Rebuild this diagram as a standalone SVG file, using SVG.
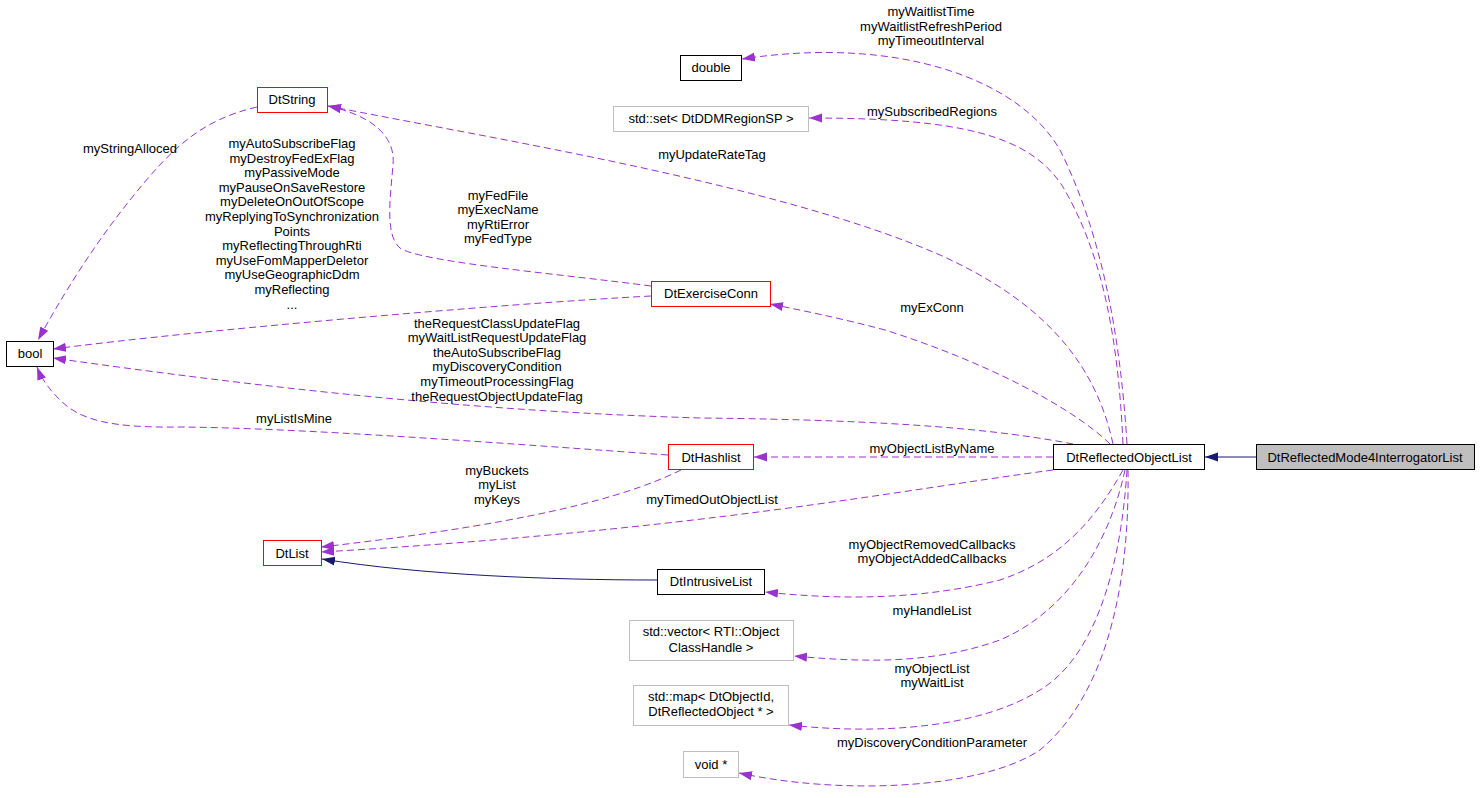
<svg xmlns="http://www.w3.org/2000/svg" width="1480" height="798" viewBox="0 0 1480 798">
<style>
text{font-family:"Liberation Sans",Arial,sans-serif;font-size:13px;fill:#000;text-anchor:middle}
.n{fill:#fff;stroke:#000;stroke-width:1}
.r{fill:#fff;stroke:#ff0000;stroke-width:1}
.g{fill:#fff;stroke:#bfbfbf;stroke-width:1}
.c{fill:#bfbfbf;stroke:#000;stroke-width:1}
.e{fill:none;stroke:#9a32cd;stroke-width:1;stroke-dasharray:7,4;marker-end:url(#pa)}
.i{fill:none;stroke:#191970;stroke-width:1;marker-end:url(#ba)}
</style>
<defs>
<marker id="pa" markerUnits="userSpaceOnUse" markerWidth="14" markerHeight="10" refX="13" refY="5" orient="auto"><path d="M0,0.5 L13,5 L0,9.5 z" fill="#9a32cd"/></marker>
<marker id="ba" markerUnits="userSpaceOnUse" markerWidth="14" markerHeight="10" refX="13" refY="5" orient="auto"><path d="M0,0.5 L13,5 L0,9.5 z" fill="#191970"/></marker>
</defs>
<rect width="1480" height="798" fill="#fff"/>
<g id="connectors">
<path class="i" d="M1256,457 L1205,457"/>
<path class="e" d="M1127,444 C1120,330 1100,230 1060,150 C1020,80 900,35 742,59"/>
<path class="e" d="M1123,444 C1118,330 1100,250 1063,187 C1030,135 960,118 809,118"/>
<path class="e" d="M1113,444 C1095,360 1040,300 940,255 C780,185 500,140 328,106"/>
<path class="e" d="M651,286 C560,274 420,262 400,248 C385,235 390,200 393,165 C396,135 370,115 328,106"/>
<path class="e" d="M257,107 C200,120 170,150 130,200 C90,250 60,300 38,340"/>
<path class="e" d="M651,296 C500,304 200,330 53,349"/>
<path class="e" d="M1073,444 C1000,430 900,420 700,418 C500,412 300,393 53,358"/>
<path class="e" d="M668,455 C500,443 300,428 180,427 C110,428 80,420 60,400 C50,390 42,380 37,367"/>
<path class="e" d="M1110,444 C1070,405 980,360 885,330 C840,318 800,310 770,304"/>
<path class="e" d="M1053,457 L754,457"/>
<path class="e" d="M1053,470 C900,490 700,530 321,552"/>
<path class="e" d="M681,470 C640,490 560,520 321,547"/>
<path class="i" d="M657,580 C550,580 420,575 322,559"/>
<path class="e" d="M1123,470 C1095,520 1060,560 1000,580 C920,600 840,600 765,592"/>
<path class="e" d="M1125,470 C1110,540 1070,610 1000,640 C930,665 860,662 794,656"/>
<path class="e" d="M1127,470 C1120,580 1090,660 1040,690 C980,728 880,735 789,725"/>
<path class="e" d="M1128,470 C1130,600 1100,700 1040,750 C980,790 840,795 739,773"/>
</g>
<g id="labels">
<text x="931" y="16">myWaitlistTime</text>
<text x="931" y="30.5">myWaitlistRefreshPeriod</text>
<text x="931" y="45">myTimeoutInterval</text>
<text x="932" y="115.5">mySubscribedRegions</text>
<text x="712" y="159">myUpdateRateTag</text>
<text x="130" y="153">myStringAlloced</text>
<text x="292" y="148">myAutoSubscribeFlag</text>
<text x="292" y="162.6">myDestroyFedExFlag</text>
<text x="292" y="177.2">myPassiveMode</text>
<text x="292" y="191.8">myPauseOnSaveRestore</text>
<text x="292" y="206.4">myDeleteOnOutOfScope</text>
<text x="292" y="221">myReplyingToSynchronization</text>
<text x="292" y="235.6">Points</text>
<text x="292" y="250.2">myReflectingThroughRti</text>
<text x="292" y="264.8">myUseFomMapperDeletor</text>
<text x="292" y="279.4">myUseGeographicDdm</text>
<text x="292" y="294">myReflecting</text>
<text x="292" y="308.6">...</text>
<text x="498" y="199.5">myFedFile</text>
<text x="498" y="214">myExecName</text>
<text x="498" y="228.5">myRtiError</text>
<text x="498" y="243">myFedType</text>
<text x="932" y="312">myExConn</text>
<text x="497" y="327.5">theRequestClassUpdateFlag</text>
<text x="497" y="342.1">myWaitListRequestUpdateFlag</text>
<text x="497" y="356.7">theAutoSubscribeFlag</text>
<text x="497" y="371.3">myDiscoveryCondition</text>
<text x="497" y="385.9">myTimeoutProcessingFlag</text>
<text x="497" y="400.5">theRequestObjectUpdateFlag</text>
<text x="294" y="422.5">myListIsMine</text>
<text x="932" y="452.5">myObjectListByName</text>
<text x="497" y="474.5">myBuckets</text>
<text x="497" y="489">myList</text>
<text x="497" y="503.5">myKeys</text>
<text x="712" y="503.5">myTimedOutObjectList</text>
<text x="932" y="548.5">myObjectRemovedCallbacks</text>
<text x="932" y="563">myObjectAddedCallbacks</text>
<text x="932" y="614.5">myHandleList</text>
<text x="932" y="672.5">myObjectList</text>
<text x="932" y="687">myWaitList</text>
<text x="932" y="746.5">myDiscoveryConditionParameter</text>
</g>
<g id="DtReflectedMode4InterrogatorList"><rect class="c" x="1256.5" y="444.5" width="218" height="25"/><text x="1365" y="461.5">DtReflectedMode4InterrogatorList</text></g>
<g id="DtReflectedObjectList"><rect class="n" x="1053.5" y="444.5" width="151" height="25"/><text x="1129" y="461.5">DtReflectedObjectList</text></g>
<g id="double"><rect class="n" x="680.5" y="55.5" width="61" height="25"/><text x="711" y="72">double</text></g>
<g id="std_set"><rect class="g" x="613.5" y="106.5" width="195" height="25"/><text x="711" y="123">std::set&lt; DtDDMRegionSP &gt;</text></g>
<g id="DtString"><rect class="r" x="257.5" y="87.5" width="70" height="25"/><text x="292" y="104">DtString</text></g>
<g id="DtExerciseConn"><rect class="r" x="651.5" y="281.5" width="119" height="25"/><text x="711" y="298">DtExerciseConn</text></g>
<g id="bool"><rect class="n" x="6.5" y="341.5" width="47" height="25"/><text x="30" y="358">bool</text></g>
<g id="DtHashlist"><rect class="r" x="668.5" y="444.5" width="85" height="25"/><text x="711" y="461.5">DtHashlist</text></g>
<g id="DtList"><rect class="r" x="263.5" y="540.5" width="58" height="25"/><text x="292" y="557.5">DtList</text></g>
<g id="DtIntrusiveList"><rect class="n" x="657.5" y="569.5" width="107" height="25"/><text x="711" y="586">DtIntrusiveList</text></g>
<g id="std_vector"><rect class="g" x="629.5" y="620.5" width="164" height="40"/><text x="711" y="635.5">std::vector&lt; RTI::Object</text><text x="711" y="651.5">ClassHandle &gt;</text></g>
<g id="std_map"><rect class="g" x="633.5" y="685.5" width="155" height="40"/><text x="711" y="700.5">std::map&lt; DtObjectId,</text><text x="711" y="715.5"> DtReflectedObject * &gt;</text></g>
<g id="void_ptr"><rect class="g" x="683.5" y="751.5" width="55" height="26"/><text x="711" y="768.5">void *</text></g>
</svg>
